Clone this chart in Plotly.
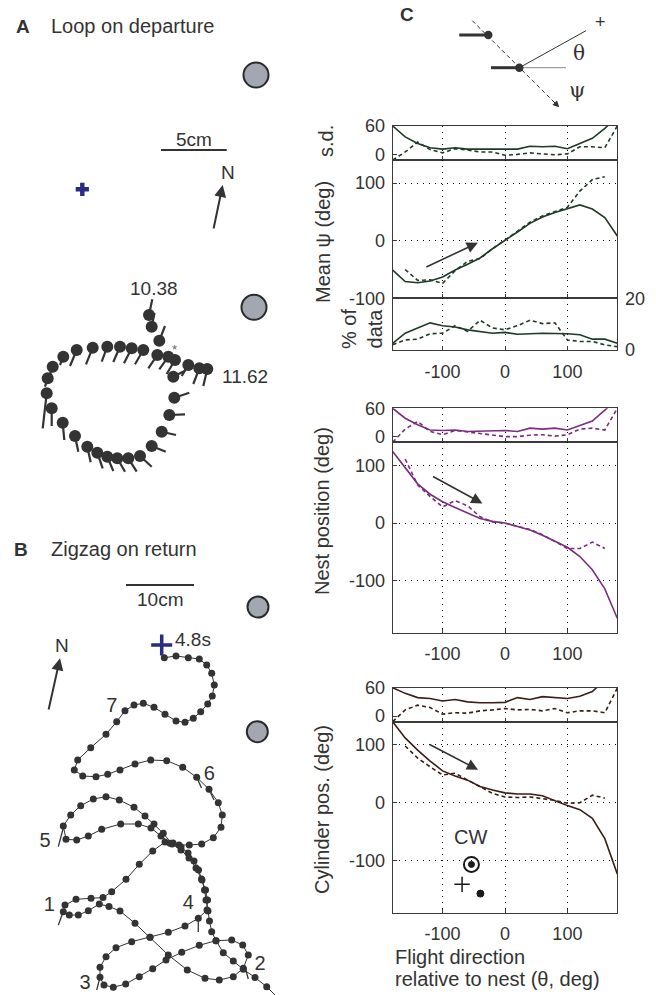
import plotly.graph_objects as go

W, H = 656, 995
def fx(p): return p / W
def fy(p): return 1 - p / H

FONT = "Liberation Sans, Arial, Helvetica, sans-serif"
INK = "#333333"

# ---------------- Panel A : loop on departure (arena drawing units) ----------------
loopA_x = [149.0,151.7,159.3,157.3,168.3,175.0,143.3,131.7,120.0,107.3,92.7,76.7,63.3,52.7,47.7,46.7,51.7,
           62.7,75.0,87.3,97.3,107.3,117.3,128.3,140.0,151.7,161.7,169.3,174.3,173.3,188.3,199.3,207.3]
loopA_y = [315.0,326.7,340.7,355.0,356.7,360.0,350.0,348.3,346.7,346.7,347.7,350.0,356.7,366.7,378.3,393.3,408.3,
           422.7,436.0,446.7,452.7,456.7,458.3,458.3,456.0,446.0,431.7,415.0,397.7,376.7,365.0,368.3,369.0]
tailA_x = [152.3,154.5,165.0,148.3,159.3,166.7,135.0,124.0,113.3,101.7,86.0,70.0,60.0,50.0,45.0,42.7,51.7,
           64.3,78.3,90.7,102.7,113.3,125.0,136.7,151.7,165.7,176.0,185.0,189.3,185.0,181.7,193.3,203.3]
tailA_y = [299.3,313.0,326.0,368.3,369.3,374.0,364.3,363.3,362.0,361.7,364.3,366.0,365.0,374.0,386.7,428.3,426.0,
           440.0,451.7,462.3,468.3,471.0,471.7,471.7,466.7,451.7,435.0,414.3,392.7,370.7,376.0,384.0,386.0]
cylA_x = [256.0, 254.0]
cylA_y = [75.0, 307.3]
nestA = (82.3, 189.3)

# ---------------- Panel B : zigzag on return ----------------
pathB_x = [276.7,266.7,255.0,243.3,233.3,223.3,216.0,211.7,209.5,208.0,206.0,204.5,202.0,198.5,194.0,188.0,181.0,173.0,165.0,
           152.7,139.3,126.0,111.7,103.0,91.0,76.0,65.0,63.3,69.3,78.3,88.3,99.3,109.0,120.0,135.0,150.0,168.3,187.3,205.0,
           219.3,233.3,243.3,248.3,242.7,231.7,216.0,199.3,181.7,166.0,152.7,139.3,125.7,113.3,104.0,100.0,100.0,106.0,116.0,
           131.7,150.0,168.3,185.0,198.3,207.0,207.5,205.5,201.5,196.0,189.0,181.0,172.0,163.3,154.0,145.0,134.0,119.3,106.0,
           93.3,80.7,70.7,63.3,66.0,76.7,88.3,101.7,120.7,138.3,151.0,161.0,170.0,179.0,189.3,201.7,213.3,221.0,222.3,218.3,
           209.0,196.7,182.7,166.7,150.7,135.0,120.0,107.7,96.0,82.7,74.3,77.7,90.7,106.0,116.7,125.0,134.0,143.3,154.0,165.0,
           176.0,185.0,193.3,200.7,207.7,212.3,214.3,211.7,206.7,199.3,188.3,176.0,164.3]
pathB_y = [996.7,986.7,977.5,969.3,961.0,952.7,940.7,931.7,921.0,911.0,900.0,890.0,880.0,870.0,861.0,853.0,847.0,843.0,842.0,
           851.0,864.3,879.3,891.7,897.5,898.3,899.3,905.0,911.7,915.0,915.0,910.7,904.0,906.5,911.0,923.3,937.3,955.0,970.0,978.3,
           980.0,976.7,968.3,955.0,945.0,940.0,940.7,945.3,952.3,960.0,968.7,976.7,984.0,987.3,985.0,977.3,967.3,956.7,947.7,
           941.7,937.3,932.3,926.0,918.3,910.0,900.0,890.0,879.0,868.0,858.0,850.0,844.0,833.3,824.0,816.0,807.3,800.0,796.7,
           799.0,805.7,815.0,826.0,839.3,840.0,836.0,829.3,824.0,824.0,828.0,836.0,843.3,845.0,845.0,844.0,837.7,827.3,815.0,802.7,
           789.3,777.3,767.3,760.7,760.0,764.0,770.0,774.3,776.7,776.0,770.0,760.0,747.7,734.3,721.7,710.7,705.0,703.3,707.3,714.3,
           721.0,722.3,718.3,711.7,704.0,696.0,685.0,673.3,665.0,659.0,657.7,656.0,657.7]
stickB_x0 = [63.3,245.0,100.0,198.3,63.3,196.7,209.0]
stickB_y0 = [911.7,967.0,977.3,918.3,828.0,777.3,789.3]
stickB_x1 = [58.3,248.3,96.7,198.3,58.3,201.5,214.0]
stickB_y1 = [925.0,979.0,990.0,932.0,846.7,788.0,800.0]
cylB_x = [258.0, 257.3]
cylB_y = [607.0, 731.7]
nestB = (161.7, 645.0)
turn_labels = ["7", "6", "5", "1", "4", "2", "3"]
turn_x = [111.7, 209.3, 45.0, 49.3, 188.3, 260.0, 85.0]
turn_y = [706.7, 775.0, 841.7, 906.0, 904.0, 965.0, 984.0]

# ---------------- Panel C : direction statistics ----------------
theta = [-180,-160,-140,-120,-100,-80,-60,-40,-20,0,20,40,60,80,100,120,140,160,180]
theta_d = [-160,-140,-120,-100,-80,-60,-40,-20,0,20,40,60,80,100,120,140,160]

psi_sd_solid = [60,37,23,14,11,14,11,11,12,11,11,17,16,17,12,23,34,55,80]
psi_sd_dash = [-12,5,26,10,3,12,9,5,5,-2,0,3,1,-1,1,16,16,14,60]
psi_mean_solid = [-51,-71,-73,-70,-63,-51,-41,-30,-14,0,15,30,41,49,56,62,55,40,8]
psi_mean_dash = [-50,-69,-68,-74,-52,-36,-31,-14,1,16,32,43,51,58,86,106,111]
pct_solid = [2.6,6.5,8.5,10.5,9.4,8.9,7.8,7.2,6.5,6.8,6.1,6.3,6.5,6.4,6.3,5.9,4.2,4.2,2.6]
pct_dash = [2.0,3.9,4.2,6.3,6.5,9.4,7.2,11.5,8.5,7.8,9.4,11.5,10.2,10.5,3.9,3.3,3.3,2.0,1.3]

nest_sd_solid = [60,39,25,14,13,14,11,12,13,13,11,18,16,18,14,23,33,56,80]
nest_sd_dash = [-12,16,32,11,4,13,10,7,4,0,0,3,4,1,4,16,18,14,60]
nest_solid = [124,95,68,50,37,27,18,8,3,0,-6,-12,-21,-32,-42,-58,-81,-114,-165]
nest_dash = [111,66,46,28,39,30,11,2,0,-6,-11,-20,-32,-44,-44,-33,-44]

cyl_sd_solid = [60,48,39,37,32,35,30,28,28,29,39,35,41,39,37,42,52,76,100]
cyl_sd_dash = [-12,13,23,18,4,7,6,11,13,16,13,14,11,16,7,11,11,7,59]
cyl_solid = [140,112,91,72,55,46,39,28,22,17,15,15,12,3,-5,-12,-27,-62,-123]
cyl_dash = [98,77,62,48,51,39,27,16,10,9,10,7,4,-1,0,13,8]

GREEN = "#1f3b25"
PURPLE = "#7b2d80"
BROWN = "#3b1e15"

fig = go.Figure()

# ---- Panel A traces ----
sx, sy = [], []
for x0, y0, x1, y1 in zip(loopA_x, loopA_y, tailA_x, tailA_y):
    sx += [x0, x1, None]
    sy += [y0, y1, None]
fig.add_trace(go.Scatter(x=sx, y=sy, mode="lines", line=dict(color=INK, width=2.2),
                         xaxis="x", yaxis="y", showlegend=False, hoverinfo="skip"))
fig.add_trace(go.Scatter(x=loopA_x, y=loopA_y, mode="markers",
                         marker=dict(size=12, color=INK), xaxis="x", yaxis="y", showlegend=False))
fig.add_trace(go.Scatter(x=cylA_x, y=cylA_y, mode="markers",
                         marker=dict(size=25, color="#a3a7b1", line=dict(color="#2a2a2a", width=2)),
                         xaxis="x", yaxis="y", showlegend=False))
fig.add_trace(go.Scatter(x=[nestA[0]], y=[nestA[1]], mode="markers",
                         marker=dict(size=11, color="#2b2b80", symbol="cross"),
                         xaxis="x", yaxis="y", showlegend=False))

# ---- Panel B traces ----
fig.add_trace(go.Scatter(x=pathB_x, y=pathB_y, mode="lines+markers",
                         line=dict(color=INK, width=1), marker=dict(size=7, color=INK),
                         xaxis="x2", yaxis="y2", showlegend=False))
bx, by = [], []
for x0, y0, x1, y1 in zip(stickB_x0, stickB_y0, stickB_x1, stickB_y1):
    bx += [x0, x1, None]
    by += [y0, y1, None]
fig.add_trace(go.Scatter(x=bx, y=by, mode="lines", line=dict(color=INK, width=1.3),
                         xaxis="x2", yaxis="y2", showlegend=False))
fig.add_trace(go.Scatter(x=cylB_x, y=cylB_y, mode="markers",
                         marker=dict(size=21, color="#a3a7b1", line=dict(color="#2a2a2a", width=2)),
                         xaxis="x2", yaxis="y2", showlegend=False))
fig.add_trace(go.Scatter(x=[nestB[0]], y=[nestB[1]], mode="markers",
                         marker=dict(size=15, color="#2b2b80", symbol="cross-thin",
                                     line=dict(color="#2b2b80", width=3.5)),
                         xaxis="x2", yaxis="y2", showlegend=False))
fig.add_trace(go.Scatter(x=turn_x, y=turn_y, mode="text", text=turn_labels,
                         textfont=dict(family=FONT, size=20, color=INK), cliponaxis=False,
                         xaxis="x2", yaxis="y2", showlegend=False))

# ---- Panel C traces ----
def pair(ys, yd, idx, color, xs=theta, xd=theta_d):
    fig.add_trace(go.Scatter(x=xs, y=ys, mode="lines", line=dict(color=color, width=1.6),
                             xaxis=f"x{idx}", yaxis=f"y{idx}", showlegend=False))
    fig.add_trace(go.Scatter(x=xd, y=yd, mode="lines", line=dict(color=color, width=1.6, dash="4px,3px"),
                             xaxis=f"x{idx}", yaxis=f"y{idx}", showlegend=False))

pair(psi_sd_solid, psi_sd_dash, 3, GREEN, theta, theta)
pair(psi_mean_solid, psi_mean_dash, 4, GREEN)
pair(pct_solid, pct_dash, 5, GREEN, theta, theta)
pair(nest_sd_solid, nest_sd_dash, 6, PURPLE, theta, theta)
pair(nest_solid, nest_dash, 7, PURPLE)
pair(cyl_sd_solid, cyl_sd_dash, 8, BROWN, theta, theta)
pair(cyl_solid, cyl_dash, 9, BROWN)

# CW legend symbols in bottom panel
cw_ring = (-53.8, -106.6)
cw_plus = (-68.8, -141.0)
cw_dot = (-39.4, -157.0)
def sym(pt, symbol, size, lw):
    fig.add_trace(go.Scatter(x=[pt[0]], y=[pt[1]], mode="markers", opacity=1, cliponaxis=False,
                             marker=dict(symbol=symbol, size=size, color="#1a1a1a", opacity=1,
                                         line=dict(color="#1a1a1a", width=lw)),
                             xaxis="x9", yaxis="y9", showlegend=False))
sym(cw_ring, "circle-open", 15, 2)
sym(cw_ring, "circle", 6, 1)
sym(cw_dot, "circle", 7, 1)
sym(cw_plus, "cross-thin", 11, 1.5)

tickfont = dict(family=FONT, size=18, color=INK)
layout = dict(
    template="none",
    width=W, height=H, autosize=False,
    margin=dict(l=0, r=0, t=0, b=0, pad=0),
    paper_bgcolor="white", plot_bgcolor="rgba(0,0,0,0)",
    font=dict(family=FONT, color=INK),
    xaxis=dict(domain=[0, fx(300)], range=[0, 300], visible=False, anchor="y", automargin=False),
    yaxis=dict(domain=[fy(500), 1], range=[500, 0], visible=False, anchor="x", automargin=False),
    xaxis2=dict(domain=[0, fx(300)], range=[0, 300], visible=False, anchor="y2", automargin=False),
    yaxis2=dict(domain=[0, fy(500)], range=[995, 500], visible=False, anchor="x2", automargin=False),
)

GRID_DASH = "1px,5px"

def c_axes(idx, top, bot, yr, yticks, ygrid, xlabels, yside="left"):
    layout[f"xaxis{idx}"] = dict(
        domain=[fx(392.7), fx(617.3)], range=[-180, 180], anchor=f"y{idx}", automargin=False,
        tickvals=[-100, 0, 100], ticktext=["-100", "0", "100"], showticklabels=xlabels,
        showgrid=True, griddash=GRID_DASH, gridcolor="#000000", gridwidth=1.2, zeroline=False,
        showline=True, mirror=True, linecolor="#3a3a3a", linewidth=1,
        ticks="inside", ticklen=4, tickcolor="#3a3a3a", tickfont=tickfont, ticklabelstandoff=5)
    layout[f"yaxis{idx}"] = dict(
        domain=[fy(bot), fy(top)], range=yr, anchor=f"x{idx}", side=yside, automargin=False,
        tickvals=yticks, ticktext=[("-" + str(-v)) if v < 0 else str(v) for v in yticks],
        showgrid=ygrid, griddash=GRID_DASH, gridcolor="#000000", gridwidth=1.2, zeroline=False,
        showline=True, mirror=True, linecolor="#3a3a3a", linewidth=1,
        ticks="inside", ticklen=4, tickcolor="#3a3a3a", tickfont=tickfont, ticklabelstandoff=3)

c_axes(3, 126.0, 160.0, [-12, 60], [0, 60], False, False)
c_axes(4, 160.0, 298.3, [-100, 140], [-100, 0, 100], True, False)
c_axes(5, 298.3, 350.0, [0, 20], [0, 20], False, True, "right")
c_axes(6, 408.3, 442.3, [-12, 60], [0, 60], False, False)
c_axes(7, 442.3, 632.7, [-190, 140], [-100, 0, 100], True, True)
c_axes(8, 687.7, 721.7, [-12, 60], [0, 60], False, False)
c_axes(9, 721.7, 912.7, [-190, 140], [-100, 0, 100], True, True)
fig.update_layout(**layout)

ann = []
def ptext(text, x, y, size=20, xanchor="center", angle=0, bold=False, color=INK, family=FONT):
    ann.append(dict(text=("<b>%s</b>" % text) if bold else text, x=fx(x), y=fy(y), xref="paper", yref="paper",
                    showarrow=False, xanchor=xanchor, yanchor="middle", textangle=angle,
                    font=dict(family=family, size=size, color=color)))

# panel titles
ptext("A", 14, 26, 19, "left", bold=True)
ptext("Loop on departure", 49, 26, 20, "left")
ptext("B", 12, 549, 19, "left", bold=True)
ptext("Zigzag on return", 49, 549, 20, "left")
ptext("C", 398, 15, 19, "left", bold=True)

# panel A texts
ptext("5cm", 194, 139, 19)
ptext("N", 228.3, 172, 19)
ptext("10.38", 154, 288.3, 19)
ptext("11.62", 245, 376.7, 19)
ptext("*", 174.3, 350, 13, color="#666")
# panel B texts
ptext("10cm", 160, 599, 19)
ptext("N", 62.3, 645, 19)
ptext("4.8s", 192.7, 639.3, 19)

# panel C texts
ptext("s.d.", 326, 141, 20, angle=-90)
ptext("Mean ψ (deg)", 323, 242, 20, angle=-90)
ptext("% of<br>data", 362, 329, 20, angle=-90)
ptext("Nest position (deg)", 322, 511, 20, angle=-90)
ptext("Cylinder pos. (deg)", 322, 810, 20, angle=-90)
ptext("Flight direction", 392.7, 956.7, 20, "left")
ptext("relative to nest (θ, deg)", 392.7, 979, 20, "left")
ptext("CW", 470, 836.7, 20)
ptext("+", 600, 22, 18)
ptext("θ", 579.3, 53.3, 20, family="DejaVu Serif, serif")
ptext("ψ", 576.7, 90, 21, family="DejaVu Serif, serif")

# arrows (data-referenced)
def arrow(x, y, ax, ay, xr, yr, width=1.6, size=1.4, head=2):
    ann.append(dict(x=x, y=y, ax=ax, ay=ay, xref=xr, yref=yr, axref=xr, ayref=yr, text="",
                    showarrow=True, arrowhead=head, arrowsize=size, arrowwidth=width, arrowcolor=INK))

arrow(-43.5, -3.5, -128.5, -47, "x4", "y4")
arrow(-36.2, 34, -117.8, 82, "x7", "y7")
arrow(-43.2, 57, -123.2, 102, "x9", "y9")
arrow(222.7, 185, 213.3, 230, "x", "y", width=2, size=1.2)
arrow(60.0, 658.3, 48.3, 711, "x2", "y2", width=2, size=1.2)
# diagram dashed arrow head
ann.append(dict(x=fx(559.3), y=fy(107.3), ax=-7, ay=-7, xref="paper", yref="paper", text="",
                showarrow=True, arrowhead=2, arrowsize=1.3, arrowwidth=1, arrowcolor=INK))

shapes = []
# scale bars
shapes.append(dict(type="line", x0=161, x1=226.7, y0=150, y1=150, xref="x", yref="y", line=dict(color=INK, width=2)))
shapes.append(dict(type="line", x0=126, x1=194, y0=585, y1=585, xref="x2", yref="y2", line=dict(color=INK, width=2)))

def pline(x0, y0, x1, y1, color=INK, width=1, dash="solid"):
    shapes.append(dict(type="line", x0=fx(x0), x1=fx(x1), y0=fy(y0), y1=fy(y1), xref="paper", yref="paper",
                       line=dict(color=color, width=width, dash=dash)))

def pdot(x, y, r):
    shapes.append(dict(type="circle", x0=fx(x - r), x1=fx(x + r), y0=fy(y + r), y1=fy(y - r),
                       xref="paper", yref="paper", fillcolor=INK, line=dict(color=INK, width=0)))

# diagram at top of panel C
pline(472.3, 20.7, 555.5, 103.5, dash="4px,3px")
pline(459.3, 35, 488.3, 35, width=3)
pline(491, 67.7, 519.3, 67.7, width=3)
pline(519.3, 67.7, 586, 30.7)
pline(519.3, 67.7, 566, 67.7, color="#888888")
pdot(488.3, 35, 4.2)
pdot(519.3, 67.7, 4.2)

fig.update_layout(annotations=ann, shapes=shapes)
fig.write_html("out.html", include_plotlyjs=True, config={"displayModeBar": False},
               post_script="document.body.style.margin='0';document.body.style.padding='0';")
